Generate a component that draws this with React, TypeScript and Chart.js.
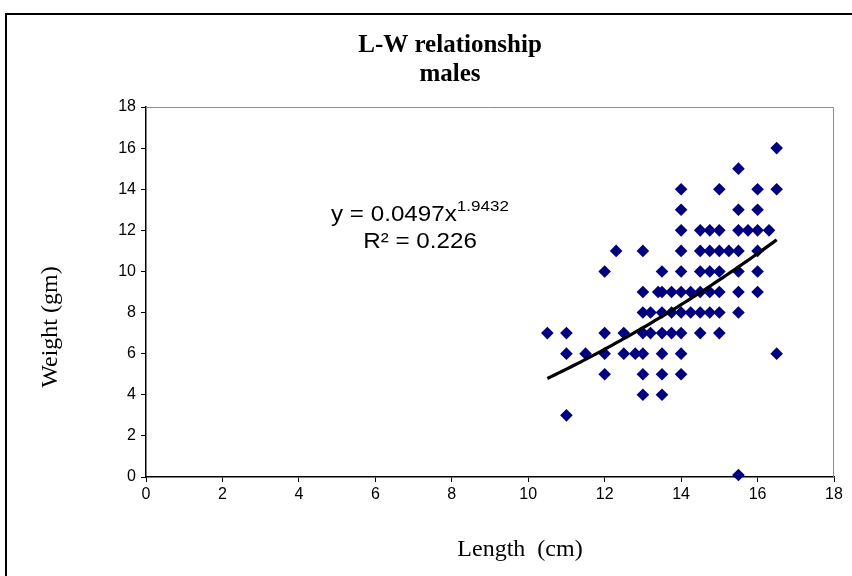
import { useEffect, useRef } from "react";
import { Chart, registerables } from "chart.js";

Chart.register(...registerables);

// Observed fish (males): length in cm, weight in g (parallel arrays)
const lengthCm: number[] = [
  16.5,
  15.5,
  14, 15, 16, 16.5,
  14, 15.5, 16,
  14, 14.5, 14.75, 15, 15.5, 15.75, 16, 16.3,
  12.3, 13, 14, 14.5, 14.75, 15, 15.25, 15.5, 16,
  12, 13.5, 14, 14.5, 14.75, 15, 15.5, 16,
  13, 13.4, 13.5, 13.75, 14, 14.25, 14.5, 14.75, 15, 15.5, 16,
  13, 13.2, 13.5, 13.75, 14, 14.25, 14.5, 14.75, 15, 15.5,
  10.5, 11, 12, 12.5, 13, 13.2, 13.5, 13.75, 14, 14.5, 15,
  11, 11.5, 12, 12.5, 12.8, 13, 13.5, 14, 16.5,
  12, 13, 13.5, 14,
  13, 13.5,
  11,
  15.5,
];
const weightGm: number[] = [
  16,
  15,
  14, 14, 14, 14,
  13, 13, 13,
  12, 12, 12, 12, 12, 12, 12, 12,
  11, 11, 11, 11, 11, 11, 11, 11, 11,
  10, 10, 10, 10, 10, 10, 10, 10,
  9, 9, 9, 9, 9, 9, 9, 9, 9, 9, 9,
  8, 8, 8, 8, 8, 8, 8, 8, 8, 8,
  7, 7, 7, 7, 7, 7, 7, 7, 7, 7, 7,
  6, 6, 6, 6, 6, 6, 6, 6, 6,
  5, 5, 5, 5,
  4, 4,
  3,
  0.1,
];

// Power trend line y = a * x^b (coefficients shown on chart)
const trendA = 0.0497;
const trendB = 1.9432;
const trendR2 = "0.226";
const trendRange = [10.5, 16.5];

const titleLines = ["L-W relationship", "males"];
const xTitle = "Length  (cm)";
const yTitle = "Weight (gm)";
const axisMin = 0;
const axisMax = 18;
const axisStep = 2;

const SERIF = "'Liberation Serif', 'Times New Roman', serif";
const SANS = "'Liberation Sans', Arial, sans-serif";

export default function App() {
  const ref = useRef<HTMLCanvasElement | null>(null);

  useEffect(() => {
    if (!ref.current) return;

    const points = lengthCm.map((x, i) => ({ x, y: weightGm[i] }));
    const trend: { x: number; y: number }[] = [];
    for (let i = 0; i <= 60; i++) {
      const x = trendRange[0] + ((trendRange[1] - trendRange[0]) * i) / 60;
      trend.push({ x, y: trendA * Math.pow(x, trendB) });
    }

    const textPlugin = {
      id: "textPlugin",
      beforeDatasetsDraw(chart: any) {
        const { ctx, chartArea } = chart;
        ctx.save();
        ctx.strokeStyle = "#8c8c8c";
        ctx.lineWidth = 1;
        ctx.beginPath();
        ctx.moveTo(chartArea.left, chartArea.top + 0.5);
        ctx.lineTo(chartArea.right - 0.5, chartArea.top + 0.5);
        ctx.lineTo(chartArea.right - 0.5, chartArea.bottom);
        ctx.stroke();
        ctx.restore();
      },
      afterDraw(chart: any) {
        const { ctx } = chart;
        ctx.save();
        ctx.fillStyle = "#000";
        ctx.textBaseline = "alphabetic";
        // Title
        ctx.textAlign = "center";
        ctx.font = `bold 25px ${SERIF}`;
        ctx.fillText(titleLines[0], 450, 52);
        ctx.fillText(titleLines[1], 450, 81);
        // X axis title
        ctx.font = `24px ${SERIF}`;
        ctx.fillText(xTitle, 520, 556);
        // Y axis title
        ctx.save();
        ctx.translate(57, 327);
        ctx.rotate(-Math.PI / 2);
        ctx.fillText(yTitle, 0, 0);
        ctx.restore();

        // Equation
        const sx = 1.1;
        const cx = 420;
        const main = `y = ${trendA}x`;
        const sup = `${trendB}`;
        ctx.textAlign = "left";
        ctx.font = `22px ${SANS}`;
        const wMain = ctx.measureText(main).width;
        ctx.font = `15.5px ${SANS}`;
        const wSup = ctx.measureText(sup).width;
        const total = (wMain + wSup) * sx;
        ctx.save();
        ctx.translate(cx - total / 2, 221);
        ctx.scale(sx, 1);
        ctx.font = `22px ${SANS}`;
        ctx.fillText(main, 0, 0);
        ctx.font = `15.5px ${SANS}`;
        ctx.fillText(sup, wMain, -10);
        ctx.restore();

        const r2 = `R² = ${trendR2}`;
        ctx.font = `22px ${SANS}`;
        const wR = ctx.measureText(r2).width * sx;
        ctx.save();
        ctx.translate(cx - wR / 2, 248);
        ctx.scale(sx, 1);
        ctx.fillText(r2, 0, 0);
        ctx.restore();
        ctx.restore();
      },
    };

    const tickFont = { family: SANS, size: 16 };

    const chart = new Chart(ref.current, {
      type: "scatter",
      data: {
        datasets: [
          {
            type: "line",
            data: trend,
            borderColor: "#000",
            borderWidth: 3.2,
            pointRadius: 0,
            fill: false,
            tension: 0,
            clip: false,
            order: 0,
          } as any,
          {
            data: points,
            pointStyle: "rectRot",
            pointRadius: 6.3,
            pointBorderWidth: 0,
            backgroundColor: "#000080",
            borderColor: "#000080",
            clip: false,
            order: 1,
          } as any,
        ],
      },
      options: {
        animation: false,
        responsive: false,
        maintainAspectRatio: false,
        devicePixelRatio: 1,
        layout: { padding: { left: 0, top: 107, right: 18, bottom: 0 } },
        plugins: {
          legend: { display: false },
          tooltip: { enabled: false },
          title: { display: false },
        },
        scales: {
          x: {
            type: "linear",
            min: axisMin,
            max: axisMax,
            ticks: {
              stepSize: axisStep,
              color: "#000",
              font: tickFont,
              padding: 3,
              maxRotation: 0,
            },
            grid: {
              display: true,
              drawOnChartArea: false,
              drawTicks: true,
              tickLength: 5,
              color: "#000",
            },
            border: { display: true, color: "#000", width: 1.5 },
            afterFit(scale: any) {
              scale.height = 99;
            },
          },
          y: {
            type: "linear",
            min: axisMin,
            max: axisMax,
            ticks: {
              stepSize: axisStep,
              color: "#000",
              font: tickFont,
              padding: 5,
            },
            grid: {
              display: true,
              drawOnChartArea: false,
              drawTicks: true,
              tickLength: 5,
              color: "#000",
            },
            border: { display: true, color: "#000", width: 1.5 },
            afterFit(scale: any) {
              scale.width = 146;
            },
          },
        },
      } as any,
      plugins: [textPlugin],
    });

    return () => chart.destroy();
  }, []);

  return (
    <div
      style={{
        position: "fixed",
        left: 0,
        top: 0,
        width: 852,
        height: 576,
        overflow: "hidden",
        background: "#fff",
      }}
    >
      <canvas ref={ref} width={852} height={576} style={{ display: "block" }} />
      <div
        style={{
          position: "absolute",
          left: 5,
          top: 13,
          width: 1000,
          height: 1000,
          border: "2px solid #000",
          pointerEvents: "none",
        }}
      />
    </div>
  );
}
